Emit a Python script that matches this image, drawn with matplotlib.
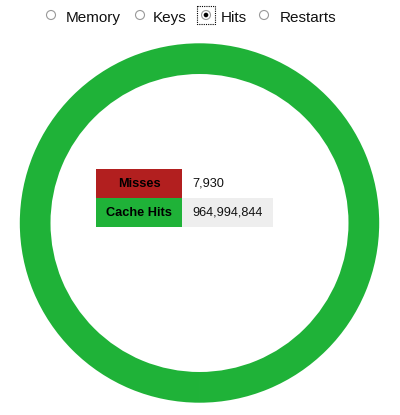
import matplotlib
matplotlib.use('Agg')
import matplotlib.pyplot as plt
from matplotlib.patches import Circle, Rectangle

# datos
radio_labels = ['Memory', 'Keys', 'Hits', 'Restarts']
radio_selected = 2
slice_labels = ['Misses', 'Cache Hits']
slice_values = [7930, 964994844]
slice_colors = ['#b21f1f', '#1fb238']

plt.rcParams['font.family'] = ['Liberation Sans', 'DejaVu Sans']

fig = plt.figure(figsize=(4, 4.15), dpi=100)
ax = fig.add_axes([0, 0, 1, 1])  # ejes en pixeles

# dona
ax.pie(slice_values, colors=slice_colors, center=(199.5, 223), radius=179.7,
       startangle=90, counterclock=False,
       wedgeprops=dict(width=30.7, linewidth=0, antialiased=True))

# botones de radio
circle_x = [51, 140, 206, 264]
text_x = [66, 153, 221, 280]
for i, etiqueta in enumerate(radio_labels):
    ax.add_patch(Circle((circle_x[i], 15), 4.5, facecolor='white',
                        edgecolor='#999999', linewidth=0.8))
    if i == radio_selected:
        ax.add_patch(Circle((circle_x[i], 15), 2.3, facecolor='black', edgecolor='none'))
        ax.add_patch(Rectangle((196.5, 6.5), 18.5, 18, fill=False, edgecolor='black',
                               linewidth=0.8, linestyle=(0, (1, 1))))
    ax.text(text_x[i], 22, etiqueta, fontsize=11, ha='left', va='baseline', color='#111111')

# tabla
row_y = [169, 198]
for i, etiqueta in enumerate(slice_labels):
    ax.add_patch(Rectangle((96, row_y[i]), 86, 29, facecolor=slice_colors[i], edgecolor='none'))
    if i == 1:
        ax.add_patch(Rectangle((182, row_y[i]), 91, 29, facecolor='#eeeeee', edgecolor='none'))
    ax.text(139, row_y[i] + 14.5, etiqueta, fontsize=9.2, fontweight='bold',
            ha='center', va='center', color='black')
    ax.text(192, row_y[i] + 14.5, f'{slice_values[i]:,}', fontsize=9.2,
            ha='left', va='center', color='#111111')

ax.set_xlim(0, 400)
ax.set_ylim(415, 0)
ax.set_aspect('auto')
ax.axis('off')

fig.savefig('out.png', dpi=100)
